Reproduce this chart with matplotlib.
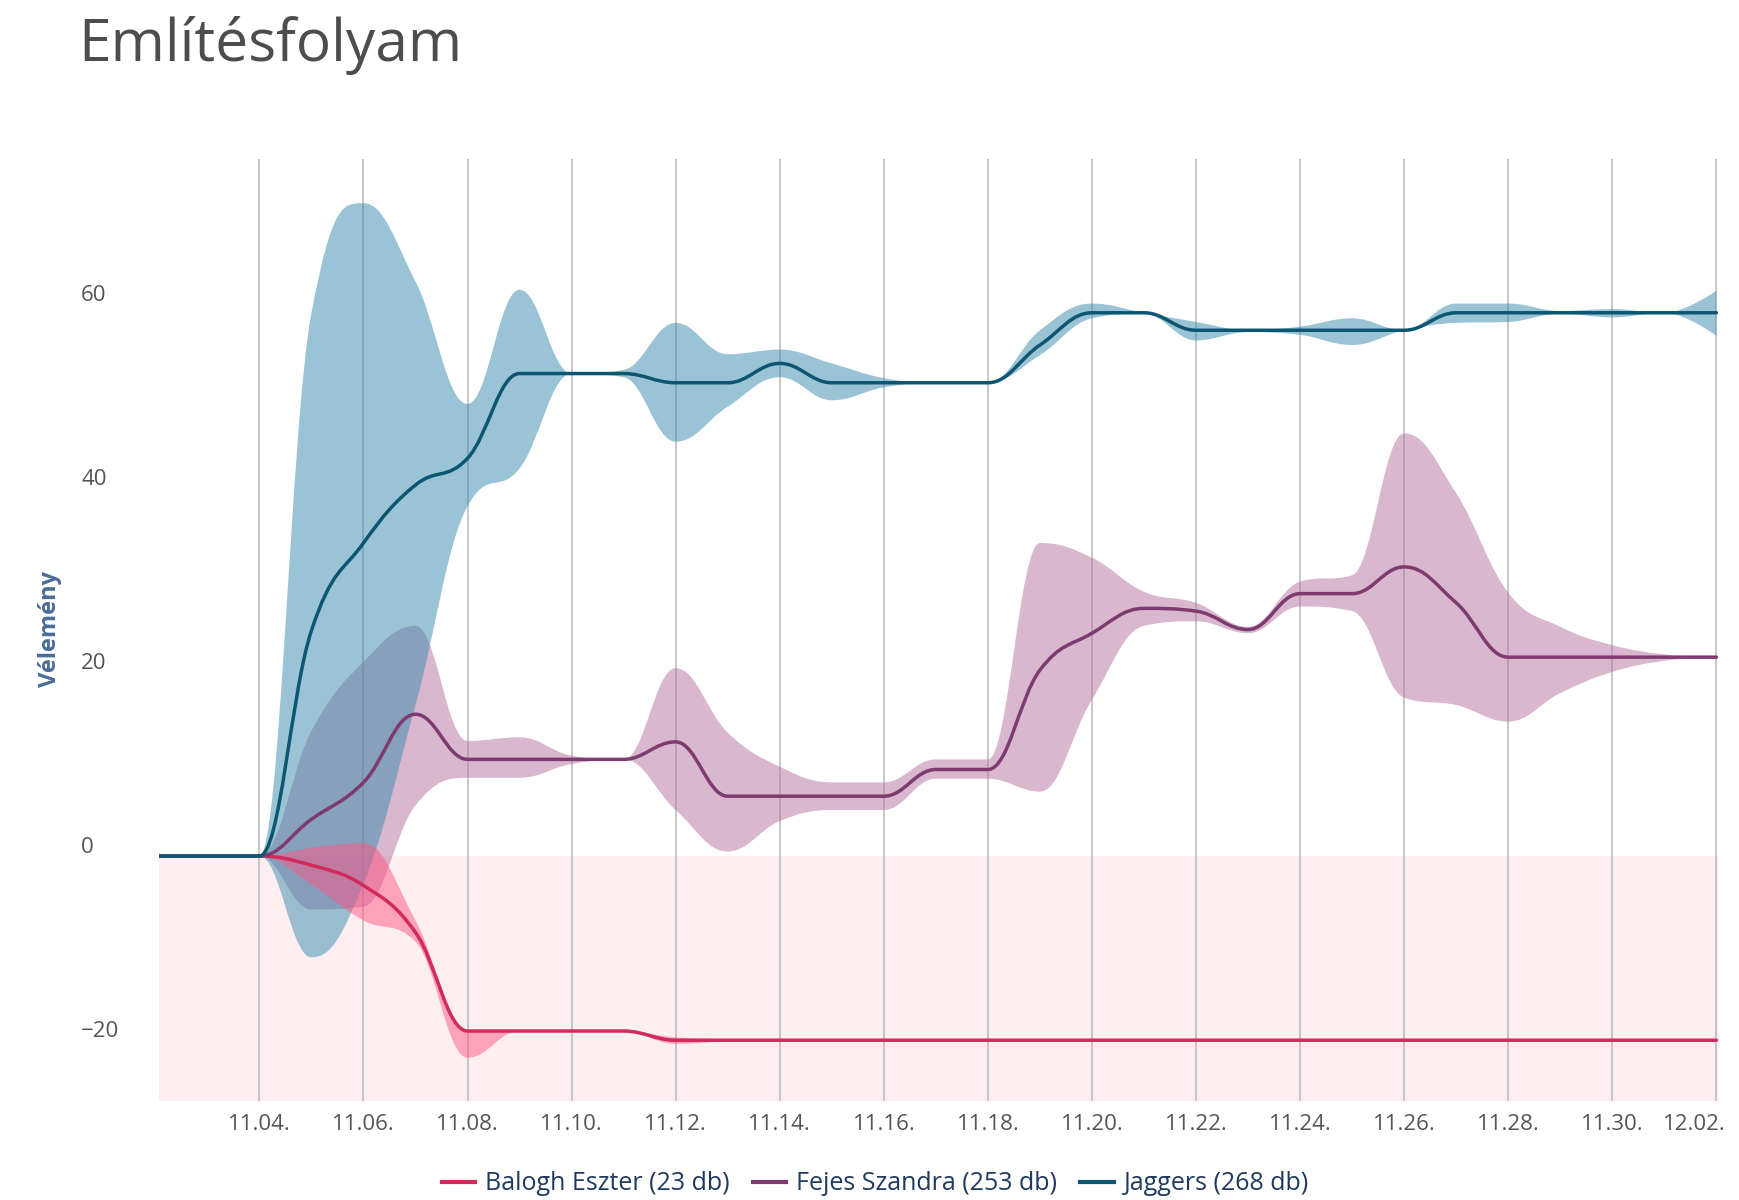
import numpy as np
import matplotlib
matplotlib.use('Agg')
import matplotlib.pyplot as plt
from matplotlib.path import Path
from matplotlib.patches import PathPatch
from matplotlib.lines import Line2D
from matplotlib.transforms import ScaledTranslation

plt.rcParams['font.family'] = ['Open Sans', 'DejaVu Sans']

# days of November (32 = 12.02.)
days = list(range(2, 33))

tick_days = [4, 6, 8, 10, 12, 14, 16, 18, 20, 22, 24, 26, 28, 30, 32]
tick_labels = ['11.04.', '11.06.', '11.08.', '11.10.', '11.12.', '11.14.', '11.16.',
               '11.18.', '11.20.', '11.22.', '11.24.', '11.26.', '11.28.', '11.30.', '12.02.']
y_ticks = [-20, 0, 20, 40, 60]
y_tick_labels = ['−20', '0', '20', '40', '60']

names = ['Balogh Eszter (23 db)', 'Fejes Szandra (253 db)', 'Jaggers (268 db)']

balogh = [0, 0, 0, -1.0, -3.2, -8.3, -19.0, -19.0, -19.0, -19.0, -20.0, -20.0, -20.0,
          -20.0, -20.0, -20.0, -20.0, -20.0, -20.0, -20.0, -20.0, -20.0, -20.0, -20.0,
          -20.0, -20.0, -20.0, -20.0, -20.0, -20.0, -20.0]
balogh_hi = [0, 0, 0, 0.9, 1.4, -7.0, -19.0, -19.0, -19.0, -19.0, -19.7, -19.9, -20.0,
             -20.0, -20.0, -20.0, -20.0, -20.0, -20.0, -20.0, -20.0, -20.0, -20.0, -20.0,
             -20.0, -20.0, -20.0, -20.0, -20.0, -20.0, -20.0]
balogh_lo = [0, 0, 0, -3.1, -7.0, -9.3, -21.9, -19.0, -19.0, -19.0, -20.4, -20.1, -20.0,
             -20.0, -20.0, -20.0, -20.0, -20.0, -20.0, -20.0, -20.0, -20.0, -20.0, -20.0,
             -20.0, -20.0, -20.0, -20.0, -20.0, -20.0, -20.0]

fejes = [0, 0, 0, 4.0, 8.0, 15.4, 10.5, 10.5, 10.5, 10.5, 12.4, 6.5, 6.5, 6.5, 6.5,
         9.4, 9.4, 20.2, 24.2, 26.9, 26.6, 24.6, 28.5, 28.5, 31.4, 27.5, 21.6, 21.6,
         21.6, 21.6, 21.6]
fejes_hi = [0, 0, 0, 13.6, 21.1, 25.0, 12.5, 12.9, 10.9, 10.5, 20.4, 13.4, 9.7, 8.0,
            8.0, 10.5, 10.5, 34.0, 32.4, 28.7, 27.5, 24.9, 29.8, 30.5, 45.9, 39.4, 28.6,
            24.9, 22.9, 21.9, 21.6]
fejes_lo = [0, 0, 0, -5.8, -5.5, 5.5, 8.5, 8.5, 10.0, 10.5, 5.0, 0.5, 3.8, 5.0, 5.0,
            8.4, 8.4, 7.0, 17.0, 25.0, 25.5, 24.2, 27.1, 26.6, 17.2, 16.4, 14.6, 17.7,
            20.0, 21.2, 21.6]

jaggers = [0, 0, 0, 24.5, 34.0, 40.3, 43.2, 52.4, 52.4, 52.4, 51.4, 51.4, 53.5, 51.4,
           51.4, 51.4, 51.4, 55.5, 59.0, 59.0, 57.1, 57.1, 57.1, 57.1, 57.1, 59.0, 59.0,
           59.0, 59.0, 59.0, 59.0]
jaggers_hi = [0, 0, 0, 59.0, 70.9, 62.4, 49.1, 61.5, 52.4, 52.8, 57.9, 54.5, 55.0, 53.5,
              51.9, 51.4, 51.4, 57.1, 60.0, 59.0, 58.0, 57.1, 57.5, 58.4, 57.1, 60.0,
              60.0, 59.2, 59.4, 59.0, 61.4]
jaggers_lo = [0, 0, 0, -11.0, -3.0, 16.4, 38.0, 42.1, 52.4, 52.0, 45.0, 48.8, 52.0, 49.5,
              50.9, 51.4, 51.4, 54.4, 58.4, 58.9, 56.0, 56.9, 56.6, 55.5, 57.1, 57.9,
              58.0, 58.9, 58.5, 59.0, 56.5]

line_colors = ['#d12a5c', '#7d3b70', '#0c5672']
band_colors = ['#ff5785', '#b371a1', '#378bad']

SMOOTH = 1.5


def spline_controls(xs, ys):
    """Control points of a smoothed spline through the given points."""
    n = len(xs)
    left = [(xs[i], ys[i]) for i in range(n)]
    right = [(xs[i], ys[i]) for i in range(n)]
    for i in range(1, n - 1):
        px, py = xs[i], ys[i]
        lx, ly = xs[i - 1], ys[i - 1]
        nx, ny = xs[i + 1], ys[i + 1]
        lcx = (SMOOTH * px + lx) / (SMOOTH + 1)
        lcy = (SMOOTH * py + ly) / (SMOOTH + 1)
        rcx = (SMOOTH * px + nx) / (SMOOTH + 1)
        rcy = (SMOOTH * py + ny) / (SMOOTH + 1)
        corr = (rcy - lcy) * (rcx - px) / (rcx - lcx) + py - rcy
        lcy += corr
        rcy += corr
        if lcy > ly and lcy > py:
            lcy = max(ly, py)
            rcy = 2 * py - lcy
        elif lcy < ly and lcy < py:
            lcy = min(ly, py)
            rcy = 2 * py - lcy
        if rcy > ny and rcy > py:
            rcy = max(ny, py)
            lcy = 2 * py - rcy
        elif rcy < ny and rcy < py:
            rcy = min(ny, py)
            lcy = 2 * py - rcy
        left[i] = (lcx, lcy)
        right[i] = (rcx, rcy)
    return left, right


def spline_segments(xs, ys):
    left, right = spline_controls(xs, ys)
    verts, codes = [], []
    for i in range(1, len(xs)):
        verts += [right[i - 1], left[i], (xs[i], ys[i])]
        codes += [Path.CURVE4] * 3
    return verts, codes


def spline_path(xs, ys):
    verts, codes = spline_segments(xs, ys)
    return Path([(xs[0], ys[0])] + verts, [Path.MOVETO] + codes)


def band_path(xs, lo, hi):
    v1, c1 = spline_segments(xs, hi)
    rx, rlo = xs[::-1], lo[::-1]
    v2, c2 = spline_segments(rx, rlo)
    verts = [(xs[0], hi[0])] + v1 + [(rx[0], rlo[0])] + v2 + [(xs[0], hi[0])]
    codes = [Path.MOVETO] + c1 + [Path.LINETO] + c2 + [Path.CLOSEPOLY]
    return Path(verts, codes)


fig = plt.figure(figsize=(17.4, 12), dpi=100)
ax = fig.add_axes([159 / 1740, 1 - 1101 / 1200, 1560 / 1740, 942 / 1200])
ax.set_xlim(2.07, 32.05)
ax.set_ylim(-26.6, 75.7)

# negative zone
ax.axhspan(-100, 0, color='#fdeff1', lw=0, zorder=0)

series = [(balogh, balogh_lo, balogh_hi), (fejes, fejes_lo, fejes_hi),
          (jaggers, jaggers_lo, jaggers_hi)]
band_z = [2.2, 2.0, 2.1]
for k, (mid, lo, hi) in enumerate(series):
    ax.add_patch(PathPatch(band_path(days, lo, hi), facecolor=band_colors[k],
                           alpha=0.5, lw=0, zorder=band_z[k]))
for k, (mid, lo, hi) in enumerate(series):
    ax.add_patch(PathPatch(spline_path(days, mid), facecolor='none',
                           edgecolor=line_colors[k], lw=2.5, zorder=3 + k,
                           capstyle='round', joinstyle='round'))

ax.set_xticks(tick_days)
ax.set_xticklabels(tick_labels)
ax.set_yticks(y_ticks)
ax.set_yticklabels(y_tick_labels)
ax.grid(axis='x', color='#bdbdbd', lw=1.2, zorder=0.5)
ax.grid(axis='y', visible=False)
ax.set_axisbelow(True)
for s in ax.spines.values():
    s.set_visible(False)
ax.tick_params(axis='both', length=0, labelsize=16, labelcolor='#555555')
ax.tick_params(axis='x', pad=9)
ax.tick_params(axis='y', pad=56)
shift = ScaledTranslation(0, 11 / 100, fig.dpi_scale_trans)
for lbl in ax.get_yticklabels():
    lbl.set_horizontalalignment('left')
    lbl.set_transform(lbl.get_transform() + shift)
# last date label pushed inside the figure
last = ax.get_xticklabels()[-1]
last.set_horizontalalignment('right')
last.set_transform(last.get_transform() + ScaledTranslation(0.09, 0, fig.dpi_scale_trans))

fig.text(50 / 1740, 1 - 629 / 1200, 'Vélemény', rotation=90, ha='center', va='center',
         fontsize=17, fontweight='bold', color='#4b6b99')
fig.text(78 / 1740, 1 - 61 / 1200, 'Említésfolyam', ha='left', va='baseline',
         fontsize=42.2, color='#4d4d4d')

handles = [Line2D([0], [0], color=c, lw=3) for c in line_colors]
fig.legend(handles, names, loc='center', bbox_to_anchor=(0.503, 16 / 1200), ncol=3,
           frameon=False, fontsize=18, labelcolor='#1f3a5f', handlelength=1.35,
           handletextpad=0.4, columnspacing=0.9)

fig.savefig('out.png', dpi=100)
plt.close(fig)
